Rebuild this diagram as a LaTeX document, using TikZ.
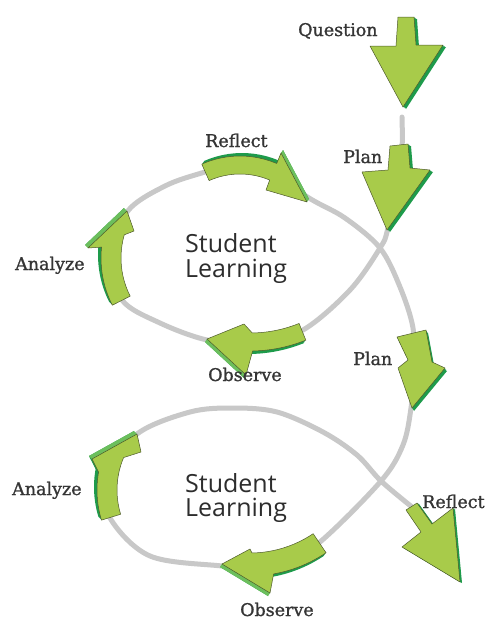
\documentclass[tikz,border=0pt]{standalone}
\usepackage{fontspec}
\newfontfamily\labelfont[FakeBold=1.2]{DejaVu Serif}
\newfontfamily\hubfont{Open Sans}

\definecolor{leaf}{HTML}{A8CB4A}
\definecolor{leafdark}{HTML}{1E9B4B}
\definecolor{leafmid}{HTML}{6CBF5C}
\definecolor{leafedge}{HTML}{4E5A2C}
\definecolor{track}{HTML}{C8C8C8}
\definecolor{ink}{HTML}{353535}

\tikzset{
  front/.style={fill=leaf, draw=leafedge, line width=0.5pt, line join=round},
  side/.style={fill=leafdark},
  face/.style={fill=leafmid},
  trackline/.style={draw=track, line width=5pt, line cap=round, line join=round},
  lbl/.style={font=\labelfont\fontsize{17.5}{17.5}\selectfont, text=ink, inner sep=0pt, anchor=base west},
  hub/.style={font=\hubfont\fontsize{25}{25}\selectfont, text=ink!85!black, inner sep=0pt, anchor=base west},
}

% points along a circular arc about (#1,#2), radius #3, from angle #4 to #5
\newcommand\arcpts[5]{\foreach \kk [evaluate=\kk as \ang using #4+(#5-#4)*\kk/12] in {0,...,12}{ -- ([shift={(#1,#2)}]\ang:#3) }}
% curved arrow outline: centre #1,#2; outer/inner radius #3,#4;
% tail angle #5; outer/inner body end angles #6,#7; head corners and tip #8
\newcommand\curvedshape[8]{([shift={(#1,#2)}]#5:#3) \arcpts{#1}{#2}{#3}{#5}{#6} -- #8 \arcpts{#1}{#2}{#4}{#7}{#5} -- cycle}
% extruded arrow: offset #1,#2; outline #3; lit side face #4
\newcommand\solidarrow[4]{%
  \foreach \ss in {0.34,0.67,1}{\fill[side,shift={(\ss*#1,\ss*#2)}] #3;}
  \fill[face] #4;
  \path[front] #3;
}

\begin{document}
\begin{tikzpicture}[x=1pt, y=-1pt]
\useasboundingbox (0,0) rectangle (486,624);
\fill[white] (0,0) rectangle (486,624);

% points the grey track passes through
\coordinate (q-end) at (402,117);
\coordinate (p1-tip) at (388,228);
\coordinate (x1) at (380,248);
\coordinate (o1-tail) at (303,330);
\coordinate (o1-tip) at (207,340);
\coordinate (a1-tail) at (122,300);
\coordinate (a1-tip) at (127,212);
\coordinate (r1-tail) at (205,172);
\coordinate (r1-tip) at (309,198);
\coordinate (p2-tail) at (413,328);
\coordinate (p2-tip) at (411,408);
\coordinate (x2) at (381,481);
\coordinate (o2-tail) at (320,542);
\coordinate (o2-tip) at (222,566);
\coordinate (a2-tail) at (110,518);
\coordinate (a2-tip) at (137,434);
\coordinate (r2-tail) at (412,507);

% the grey track
\path[trackline] plot[smooth, tension=0.55] coordinates {
  (q-end) (401,165) (p1-tip) (x1) (350,290) (o1-tail) (255,344) (o1-tip)
  (160,323) (a1-tail) (113,258) (a1-tip) (165,186) (r1-tail) (250,160)
  (r1-tip) (345,218) (x1) (400,287) (p2-tail) (414,370) (p2-tip) (403,445)
  (x2) (o2-tail) (275,570) (o2-tip) (150,556) (a2-tail) (104,478) (a2-tip)
  (190,412) (233,408) (277,412) (323,432) (357,455) (x2) (r2-tail)};

% Question
\solidarrow{3}{2}{(398,17) -- (414,17) -- (416,45) -- (443,45) -- (403,107) -- (370,46) -- (396,46) -- cycle}{(0,0)}
% Plan (upper)
\solidarrow{3}{2}{(390,146) -- (408,144) -- (410,168) -- (430,170) -- (387,230) -- (362,172) -- (388,170) -- cycle}{(0,0)}
% Reflect (upper loop)
\solidarrow{2}{-3}{\curvedshape{240}{250}{94}{76}{246}{293}{293}{(281,153) -- (307,202) -- (266,190)}}{(281,153) -- (307,202) -- (309,199) -- (283,150) -- cycle}
% Analyze (upper loop)
\solidarrow{-3}{-3}{\curvedshape{205}{258}{104}{84}{153}{186}{196}{(88,248) -- (127,211) -- (134,231)}}{(88,248) -- (127,211) -- (124,208) -- (85,245) -- cycle}
% Observe (upper loop)
\solidarrow{-2}{3}{\curvedshape{250}{202}{149}{131}{68}{89}{89}{(246,375) -- (207,339) -- (244,324)}}{(207,339) -- (246,375) -- (244,378) -- (205,342) -- cycle}
% Plan (lower)
\solidarrow{2}{3}{(397,337) -- (426,330) -- (432,362) -- (445,368) -- (412,408) -- (398,368) -- (408,360) -- cycle}{(0,0)}
% Observe (lower loop)
\solidarrow{-2}{3}{\curvedshape{250}{440}{136}{113}{56}{80}{89}{(270,593) -- (222,564) -- (250,549)}}{(222,564) -- (270,593) -- (268,596) -- (220,567) -- cycle}
% Analyze (lower loop)
\solidarrow{-3}{-3}{\curvedshape{200}{490}{103}{83}{163}{190}{203}{(92,459) -- (137,434) -- (141,452)}}{(92,459) -- (137,434) -- (134,431) -- (89,456) -- cycle}
% Reflect (lower)
\solidarrow{2}{1}{(406,510) -- (417,503) -- (432,524) -- (453,508) -- (460,582) -- (402,547) -- (421,532) -- cycle}{(0,0)}

% labels
\node[lbl] (t-question) at (298,36) {Question};
\node[lbl] (t-plan1) at (343,163) {Plan};
\node[lbl] (t-reflect1) at (205,147) {Reflect};
\node[lbl] (t-analyze1) at (15,270) {Analyze};
\node[lbl] (t-observe1) at (208,381) {Observe};
\node[lbl] (t-plan2) at (353,365) {Plan};
\node[lbl] (t-analyze2) at (12,495) {Analyze};
\node[lbl] (t-reflect2) at (422,508) {Reflect};
\node[lbl] (t-observe2) at (240,616) {Observe};

\node[hub] (s1a) at (185,252) {Student};
\node[hub] (s1b) at (185,277) {Learning};
\node[hub] (s2a) at (185,492) {Student};
\node[hub] (s2b) at (185,516) {Learning};
\end{tikzpicture}
\end{document}
